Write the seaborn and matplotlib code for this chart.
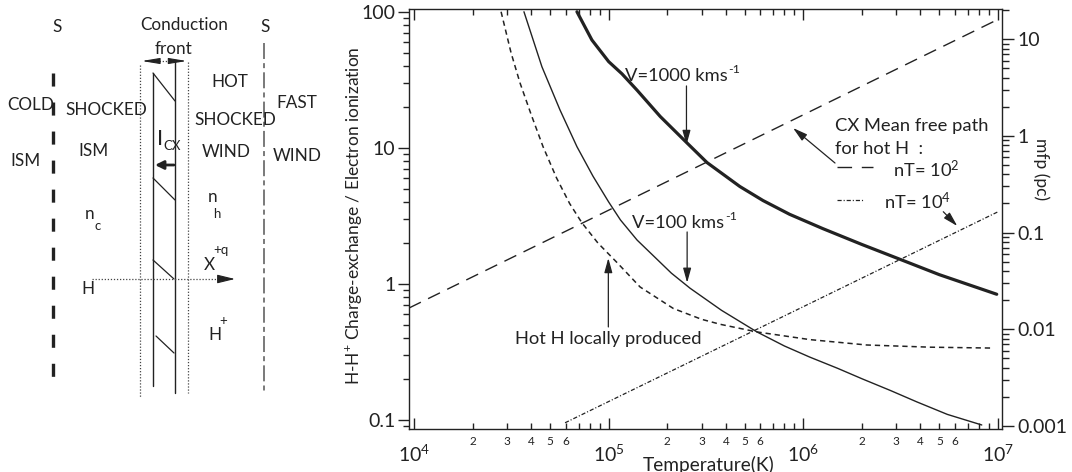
import numpy as np
import matplotlib
matplotlib.use("Agg")
import matplotlib.pyplot as plt
import seaborn as sns
from matplotlib.ticker import FixedLocator, FuncFormatter, LogLocator, NullFormatter

# ---------------- data ----------------
T_v1000 = [6.87e4, 8.2e4, 1.0e5, 1.17e5, 1.4e5, 1.84e5, 2.52e5, 3.2e5, 4.72e5, 6.21e5,
           8.5e5, 1.26e6, 2.0e6, 3.13e6, 5.0e6, 9.86e6]
R_v1000 = [100.0, 62.0, 43.0, 35.0, 26.5, 17.0, 10.9, 7.8, 5.2, 4.1,
           3.25, 2.55, 1.95, 1.52, 1.17, 0.84]

T_v100 = [3.67e4, 4.54e4, 5.62e4, 6.87e4, 8.3e4, 1.0e5, 1.15e5, 1.4e5, 1.69e5, 2.1e5,
          2.62e5, 3.8e5, 5.78e5, 8.0e5, 1.08e6, 1.5e6, 2.02e6, 2.8e6, 3.83e6, 5.5e6, 8.26e6]
R_v100 = [100.0, 39.4, 19.0, 10.2, 6.2, 4.0, 2.95, 2.1, 1.62, 1.2,
          0.93, 0.64, 0.444, 0.35, 0.29, 0.24, 0.20, 0.165, 0.136, 0.11, 0.092]

T_hot = [2.80e4, 3.15e4, 3.50e4, 4.0e4, 4.60e4, 5.4e4, 6.3e4, 7.29e4, 8.8e4, 1.107e5,
         1.45e5, 2.15e5, 3.0e5, 3.75e5, 5.78e5, 1.08e6, 2.12e6, 4.5e6, 9.31e6]
R_hot = [100.0, 50.0, 30.1, 17.5, 10.2, 6.0, 3.9, 2.81, 2.0, 1.43,
         0.95, 0.66, 0.55, 0.505, 0.444, 0.39, 0.356, 0.343, 0.338]

T_mfp_nt2 = [9.42e3, 1.0e7]
MFP_nt2 = [0.0166, 16.0]
T_mfp_nt4 = [5.97e4, 1.0e7]
MFP_nt4 = [0.00108, 0.164]

X_MAJOR = [1e4, 1e5, 1e6, 1e7]
Y_LEFT_MAJOR = [0.1, 1, 10, 100]
Y_RIGHT_MAJOR = [0.001, 0.01, 0.1, 1, 10]
MINOR_LABELLED = [2, 3, 4, 5, 6]

INK = "#222222"

sns.set_theme(style="ticks")
plt.rcParams.update({
    "font.family": ["Lato", "DejaVu Sans"],
    "mathtext.fontset": "custom",
    "mathtext.rm": "Lato",
    "mathtext.it": "Lato:italic",
    "mathtext.bf": "Lato:bold",
    "lines.scale_dashes": False,
    "axes.edgecolor": INK,
    "axes.linewidth": 1.0,
    "xtick.color": INK,
    "ytick.color": INK,
    "text.color": INK,
    "axes.labelcolor": INK,
})

W, H = 1072, 472
fig = plt.figure(figsize=(W / 100, H / 100), dpi=100)

# ---------------- main chart ----------------
L, R, B, Tp = 409, 1002, 429.3, 9.3
ax = fig.add_axes([L / W, 1 - B / H, (R - L) / W, (B - Tp) / H])
ax.set_xscale("log")
ax.set_yscale("log")
ax.set_xlim(10 ** 3.974, 10 ** 7.021)
ax.set_ylim(10 ** -1.068, 10 ** 2.018)

sns.lineplot(x=T_v1000, y=R_v1000, ax=ax, color=INK, linewidth=2.3,
             estimator=None, sort=False, legend=False)
sns.lineplot(x=T_v100, y=R_v100, ax=ax, color=INK, linewidth=1.0,
             estimator=None, sort=False, legend=False)
sns.lineplot(x=T_hot, y=R_hot, ax=ax, color=INK, linewidth=1.1,
             linestyle=(0, (3.8, 2.8)), estimator=None, sort=False, legend=False)

ax.xaxis.set_major_locator(FixedLocator(X_MAJOR))
ax.xaxis.set_minor_locator(LogLocator(base=10, subs=np.arange(2, 10), numticks=30))
ax.xaxis.set_major_formatter(FuncFormatter(lambda v, p: "$10^{%d}$" % int(round(np.log10(v)))))


def _minor_fmt(v, p):
    m = int(round(v / 10 ** np.floor(np.log10(v) + 1e-9)))
    return str(m) if m in MINOR_LABELLED else ""


ax.xaxis.set_minor_formatter(FuncFormatter(_minor_fmt))
ax.tick_params(axis="x", which="both", direction="in", top=True, bottom=True, width=1.0, color=INK)
ax.tick_params(axis="x", which="major", length=8, pad=10, labelsize=14)
ax.tick_params(axis="x", which="minor", length=4.3, pad=5, labelsize=8.5)

ax.yaxis.set_major_locator(FixedLocator(Y_LEFT_MAJOR))
ax.yaxis.set_minor_locator(LogLocator(base=10, subs=np.arange(2, 10), numticks=30))
ax.yaxis.set_major_formatter(FuncFormatter(lambda v, p: f"{v:g}"))
ax.yaxis.set_minor_formatter(NullFormatter())
ax.tick_params(axis="y", which="both", direction="out", left=True, right=False, width=1.0, color=INK)
ax.tick_params(axis="y", which="major", length=7.7, pad=2, labelsize=14)
ax.tick_params(axis="y", which="minor", length=4)
ax.set_xlabel("")
ax.set_ylabel("")

# right axis: mean free path
ax2 = ax.twinx()
ax2.set_yscale("log")
ax2.set_ylim(10 ** -3.034, 10 ** 1.309)
sns.lineplot(x=T_mfp_nt2, y=MFP_nt2, ax=ax2, color=INK, linewidth=1.0,
             linestyle=(0, (9.5, 5.8)), estimator=None, sort=False, legend=False)
sns.lineplot(x=T_mfp_nt4, y=MFP_nt4, ax=ax2, color=INK, linewidth=0.9,
             linestyle=(0, (3.0, 1.4, 0.8, 1.4)), estimator=None, sort=False, legend=False)
ax2.yaxis.set_major_locator(FixedLocator(Y_RIGHT_MAJOR))
ax2.yaxis.set_minor_locator(LogLocator(base=10, subs=np.arange(2, 10), numticks=30))
ax2.yaxis.set_major_formatter(FuncFormatter(lambda v, p: f"{v:g}"))
ax2.yaxis.set_minor_formatter(NullFormatter())
ax2.tick_params(axis="y", which="both", direction="out", right=True, left=False, width=1.0, color=INK)
ax2.tick_params(axis="y", which="major", length=8.4, pad=3, labelsize=14)
ax2.tick_params(axis="y", which="minor", length=4.8)
ax2.set_ylabel("")
for s in ax2.spines.values():
    s.set_visible(False)

# annotations on chart
TXT = 13.2
arr = dict(arrowstyle="-|>,head_length=0.8,head_width=0.22", color=INK, lw=0.9,
           mutation_scale=11, shrinkA=0, shrinkB=0)


def text_with_sup(x, y, base, sup, fontsize):
    t = ax.text(x, y, base, fontsize=fontsize, ha="left", va="baseline")
    fig.canvas.draw()
    bb = t.get_window_extent()
    bx, by = ax.transData.transform((x, y))
    fig.text((bb.x1 + 0.5) / W, (by + 7.5) / H, sup, fontsize=fontsize * 0.68,
             ha="left", va="baseline")


text_with_sup(1.217e5, 31.0, "V=1000 kms", "-1", TXT)
ax.annotate("", xy=(2.51e5, 10.5), xytext=(2.51e5, 28.5), arrowprops=arr)

text_with_sup(1.32e5, 2.59, "V=100 kms", "-1", TXT)
ax.annotate("", xy=(2.53e5, 1.02), xytext=(2.53e5, 2.41), arrowprops=arr)

ax.text(3.31e4, 0.36, "Hot H locally produced", fontsize=TXT, ha="left", va="baseline")
ax.annotate("", xy=(9.96e4, 1.55), xytext=(9.96e4, 0.483), arrowprops=arr)

ax.text(0.7184, 0.7102, "CX Mean free path", transform=ax.transAxes, fontsize=TXT,
        ha="left", va="baseline")
ax.text(0.7184, 0.6548, "for hot H  :", transform=ax.transAxes, fontsize=TXT,
        ha="left", va="baseline")
ax.annotate("", xy=(0.6476, 0.7174), xytext=(0.7184, 0.634), xycoords="axes fraction",
            textcoords="axes fraction", arrowprops=arr)
ax.plot([0.7218, 0.7825], [0.6252, 0.6252], transform=ax.transAxes, color=INK, lw=1.0,
        linestyle=(0, (10.5, 7.0)))
ax.text(0.8162, 0.6014, "nT= 10$^{2}$", transform=ax.transAxes, fontsize=TXT,
        ha="left", va="baseline")
ax.plot([0.7218, 0.7656], [0.5459, 0.5459], transform=ax.transAxes, color=INK, lw=0.9,
        linestyle=(0, (3.0, 1.4, 0.8, 1.4)))
ax.text(0.8010, 0.5238, "nT= 10$^{4}$", transform=ax.transAxes, fontsize=TXT,
        ha="left", va="baseline")
ax.annotate("", xy=(0.9246, 0.484), xytext=(0.901, 0.518), xycoords="axes fraction",
            textcoords="axes fraction", arrowprops=arr)

ax.text(0.3946, -0.099, "Temperature(K)", transform=ax.transAxes, fontsize=13.8,
        ha="left", va="baseline")
fig.text(354 / W, 1 - 216 / H, "H-H$^{+}$ Charge-exchange / Electron ionization",
         rotation=90, ha="center", va="center", fontsize=12.5)
fig.text(1041 / W, 1 - 169 / H, "mfp (pc)", rotation=-90, ha="center", va="center",
         fontsize=12.5)

# ---------------- left schematic (pixel coordinates) ----------------
dg = fig.add_axes([0, 0, 400 / W, 1])
dg.set_xlim(0, 400)
dg.set_ylim(H, 0)
dg.axis("off")

# left shock (thick dashed)
dg.plot([53, 53], [73, 389], color=INK, lw=2.4, linestyle=(0, (9.4, 11.5)), solid_capstyle="butt")
# dotted boundaries of the conduction front
dg.plot([140, 140], [65, 397], color="#444444", lw=0.9, linestyle=(0, (0.9, 1.3)))
dg.plot([188, 188], [62, 393], color="#444444", lw=0.9, linestyle=(0, (0.9, 1.3)))
# solid walls
dg.plot([153, 153], [73, 386], color=INK, lw=1.0)
dg.plot([175, 175], [61, 393], color=INK, lw=1.0)
# hatches
for (x0, y0, x1, y1) in [(153, 73, 175, 101), (153, 178, 175, 200),
                         (153, 260, 174, 279), (156, 336, 174, 353)]:
    dg.plot([x0, x1], [y0, y1], color=INK, lw=0.9)
# right contact (dash-dot)
dg.plot([264, 264], [43, 391], color="#555555", lw=1.1,
        linestyle=(0, (11.5, 3.0, 3.6, 3.0)))

# conduction front width arrow
dg.plot([150, 178], [61, 61], color="#444444", lw=0.9, linestyle=(0, (0.9, 1.3)))
head = dict(arrowstyle="-|>,head_length=0.9,head_width=0.15", color=INK, lw=0.8,
            mutation_scale=12, shrinkA=0, shrinkB=0)
dg.annotate("", xy=(141.7, 61), xytext=(156, 61), arrowprops=head)
dg.annotate("", xy=(186.7, 61), xytext=(172, 61), arrowprops=head)

# H trajectory
dg.plot([92, 224], [279, 279], color="#444444", lw=0.9, linestyle=(0, (0.9, 1.3)))
dg.annotate("", xy=(235, 279), xytext=(222, 279),
            arrowprops=dict(arrowstyle="-|>,head_length=0.9,head_width=0.22", color=INK,
                            lw=0.8, mutation_scale=12, shrinkA=0, shrinkB=0))
# I_CX arrow
dg.annotate("", xy=(155, 165), xytext=(174, 165),
            arrowprops=dict(arrowstyle="-|>,head_length=0.5,head_width=0.25", color=INK,
                            lw=2.0, mutation_scale=10, shrinkA=0, shrinkB=0))

FS = 12.3
labels = [
    ("S", 57, 27.5), ("S", 265, 27.5),
    ("Conduction", 184, 25), ("front", 173.5, 49),
    ("COLD", 31, 105), ("ISM", 26, 161.5),
    ("SHOCKED", 106.5, 110), ("ISM", 94, 151),
    ("HOT", 229.5, 82), ("SHOCKED", 235, 120), ("WIND", 226.5, 152),
    ("FAST", 297, 103.5), ("WIND", 297, 156),
    ("n", 89.5, 214), ("n", 212.5, 197),
    ("X", 209.5, 265.5), ("H", 87.5, 289.5), ("H", 214.5, 334.5),
]
for s, x, y in labels:
    dg.text(x, y, s, fontsize=FS, ha="center", va="center")
small = [("c", 98, 226), ("h", 217, 214), ("+q", 221, 250), ("+", 223, 321), ("CX", 172, 146)]
for s, x, y in small:
    dg.text(x, y, s, fontsize=9.5, ha="center", va="center")
dg.text(160.5, 139, "I", fontsize=16, ha="center", va="center")

fig.savefig("out.png", dpi=100)
